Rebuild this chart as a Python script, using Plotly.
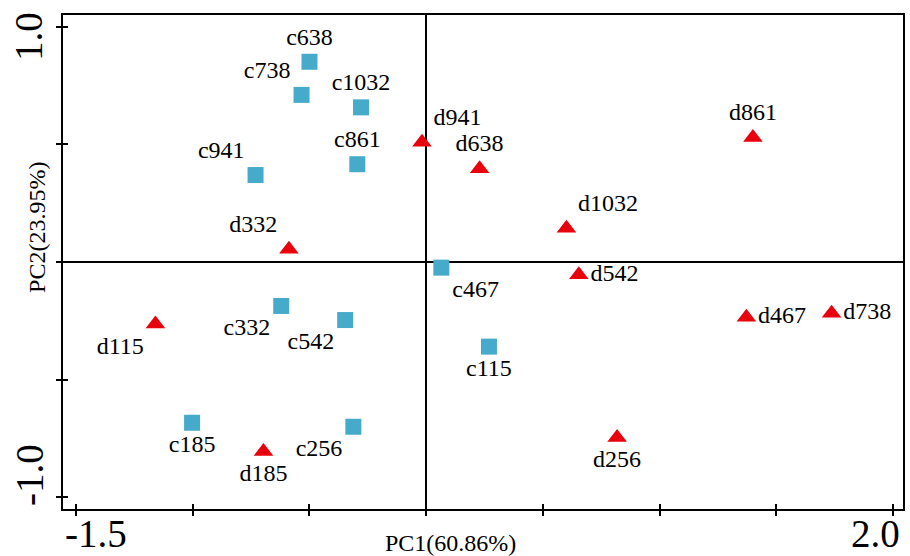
import plotly.graph_objects as go

# control samples (squares)
c_labels = ["c638", "c738", "c1032", "c861", "c941", "c467", "c332", "c542", "c185", "c256", "c115"]
c_pc1 = [-0.500, -0.534, -0.279, -0.295, -0.731, 0.065, -0.621, -0.347, -1.003, -0.312, 0.269]
c_pc2 = [0.852, 0.711, 0.658, 0.416, 0.370, -0.024, -0.187, -0.247, -0.684, -0.701, -0.360]
c_pos = ["top center", "top left", "top center", "top center", "top left", "bottom right",
         "bottom left", "bottom left", "bottom center", "bottom left", "bottom center"]

# treated samples (triangles)
d_labels = ["d941", "d638", "d1032", "d542", "d861", "d467", "d738", "d332", "d115", "d185", "d256"]
d_pc1 = [-0.018, 0.229, 0.601, 0.654, 1.400, 1.372, 1.737, -0.588, -1.160, -0.697, 0.818]
d_pc2 = [0.510, 0.397, 0.144, -0.054, 0.530, -0.235, -0.218, 0.054, -0.264, -0.806, -0.747]
d_pos = ["top right", "top center", "top right", "middle right", "top center", "middle right",
         "middle right", "top left", "bottom left", "bottom center", "bottom center"]

x_ticks = [-1.5, -1.0, -0.5, 0.0, 0.5, 1.0, 1.5, 2.0]
y_ticks = [-1.0, -0.5, 0.0, 0.5, 1.0]
x_title = "PC1(60.86%)"
y_title = "PC2(23.95%)"

FONT = "Liberation Serif, Times New Roman, serif"

fig = go.Figure()
fig.add_trace(go.Scatter(
    x=c_pc1, y=c_pc2, text=c_labels, textposition=c_pos, mode="markers+text",
    marker=dict(symbol="square", size=16, color="#46AACB", line=dict(width=0)),
    textfont=dict(family=FONT, size=24, color="black"), showlegend=False, cliponaxis=False))
fig.add_trace(go.Scatter(
    x=d_pc1, y=d_pc2, text=d_labels, textposition=d_pos, mode="markers+text",
    marker=dict(symbol="triangle-up", size=17, color="#E8000D", line=dict(width=0)),
    textfont=dict(family=FONT, size=24, color="black"), showlegend=False, cliponaxis=False))

xr = [-1.556, 2.043]
yr = [-1.051, 1.051]
axis_common = dict(showgrid=False, zeroline=True, zerolinecolor="black", zerolinewidth=2,
                   showline=True, linecolor="black", linewidth=2, mirror=True,
                   ticks="outside", ticklen=5, tickwidth=1.5, tickcolor="black",
                   showticklabels=False)
fig.update_layout(
    width=910, height=556, margin=dict(l=63, r=5, t=15, b=47),
    plot_bgcolor="white", paper_bgcolor="white",
    xaxis=dict(range=xr, tickvals=x_ticks, **axis_common),
    yaxis=dict(range=yr, tickvals=y_ticks, **axis_common),
    xaxis2=dict(range=xr, tickvals=x_ticks, overlaying="x", side="bottom", ticks="inside",
                ticklen=5, tickwidth=1.5, tickcolor="black", showticklabels=False,
                showgrid=False, zeroline=False, showline=False),
    yaxis2=dict(range=yr, tickvals=y_ticks, overlaying="y", side="left", ticks="inside",
                ticklen=5, tickwidth=1.5, tickcolor="black", showticklabels=False,
                showgrid=False, zeroline=False, showline=False),
)
# invisible trace to activate overlay axes
fig.add_trace(go.Scatter(x=[None], y=[None], xaxis="x2", yaxis="y2", showlegend=False))

tick_font = dict(family=FONT, size=39, color="black")
ann = []
ann.append(dict(x=x_ticks[0], y=0, xref="x", yref="paper", text="-1.5", showarrow=False,
                xanchor="center", yanchor="bottom", xshift=20, yshift=-48, font=tick_font))
ann.append(dict(x=x_ticks[-1], y=0, xref="x", yref="paper", text="2.0", showarrow=False,
                xanchor="center", yanchor="bottom", xshift=-17, yshift=-48, font=tick_font))
ann.append(dict(x=-0.0404, y=y_ticks[-1], xref="paper", yref="y", text="1.0", showarrow=False,
                xanchor="center", yanchor="middle", yshift=-10, textangle=-90, font=tick_font))
ann.append(dict(x=-0.0404, y=y_ticks[0], xref="paper", yref="y", text="-1.0", showarrow=False,
                xanchor="center", yanchor="middle", yshift=22, textangle=-90, font=tick_font))
title_font = dict(family=FONT, size=24, color="black")
ann.append(dict(x=0.4608, y=0, xref="paper", yref="paper", text=x_title, showarrow=False,
                xanchor="center", yanchor="middle", yshift=-34, font=title_font))
ann.append(dict(x=-0.0309, y=0.569, xref="paper", yref="paper", text=y_title, showarrow=False,
                xanchor="center", yanchor="middle", textangle=-90, font=title_font))
fig.update_layout(annotations=ann)

fig.write_html("out.html")
